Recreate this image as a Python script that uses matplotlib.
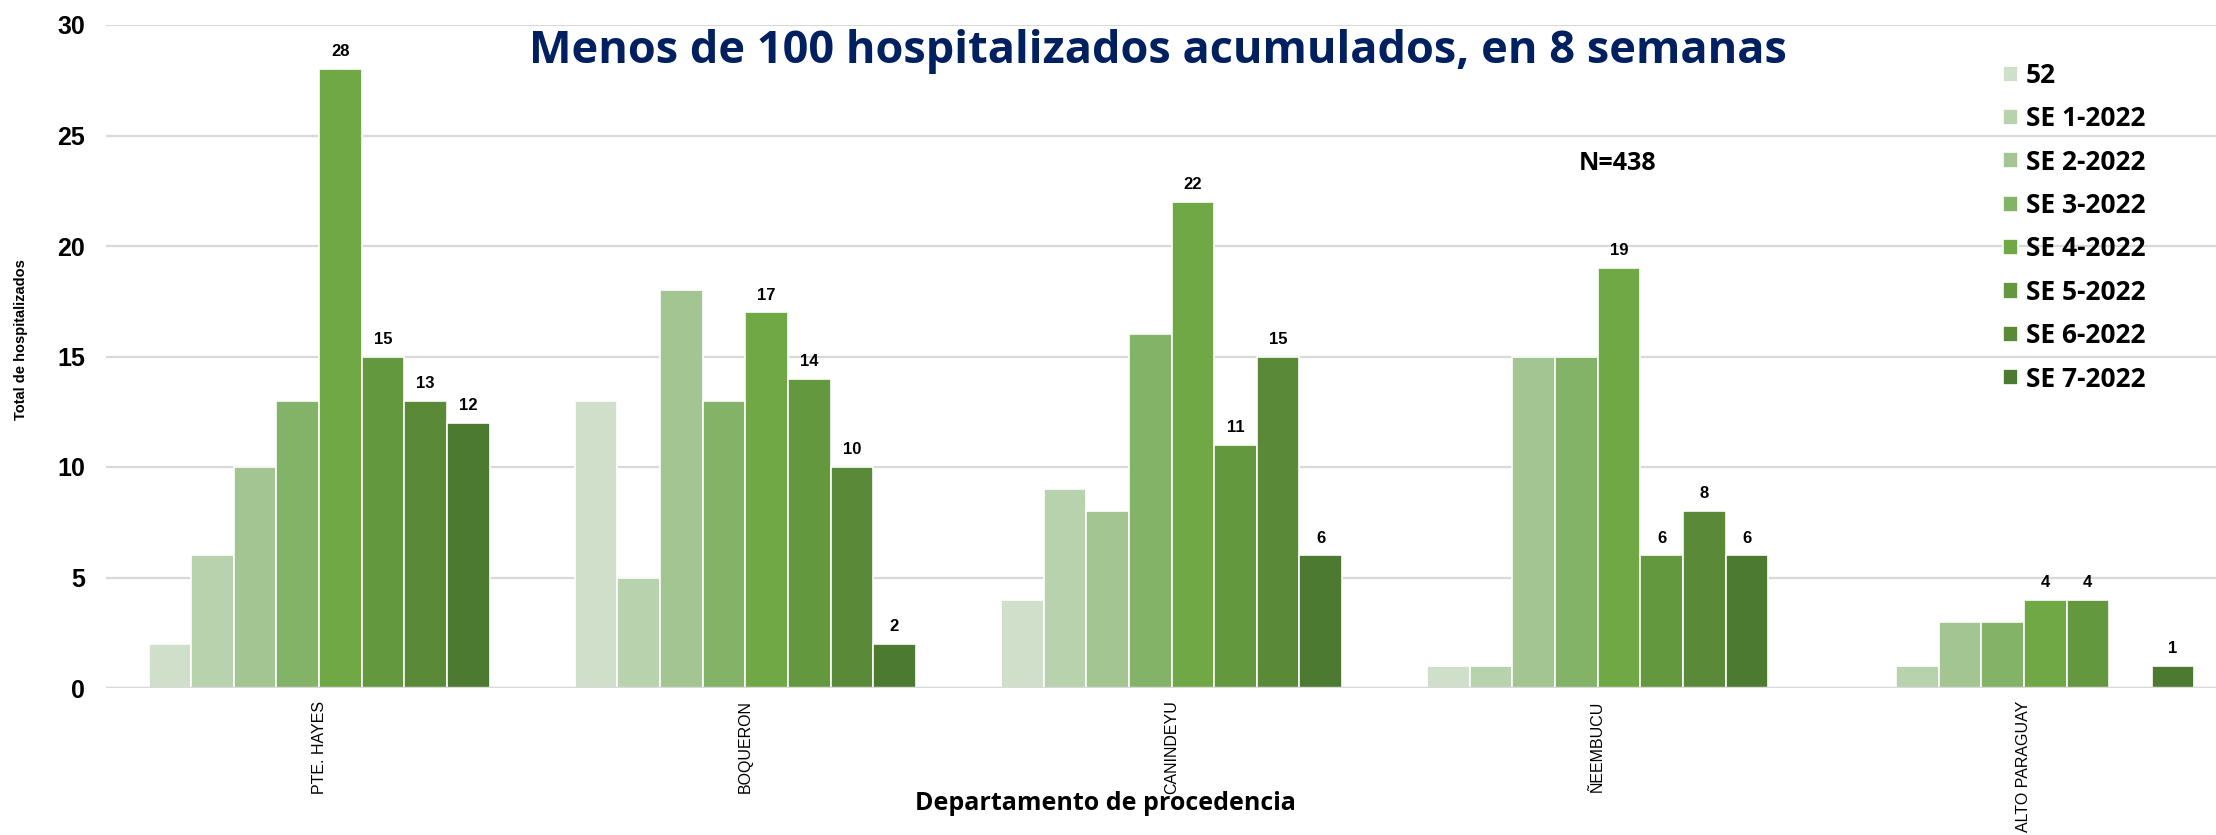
import numpy as np
import matplotlib
matplotlib.use('Agg')
import matplotlib.pyplot as plt

# Datos: hospitalizados por departamento y semana epidemiologica
departamentos = ['PTE. HAYES', 'BOQUERON', 'CANINDEYU', 'ÑEEMBUCU', 'ALTO PARAGUAY']
semanas = ['52', 'SE 1-2022', 'SE 2-2022', 'SE 3-2022',
           'SE 4-2022', 'SE 5-2022', 'SE 6-2022', 'SE 7-2022']

se_52 = [2, 13, 4, 1, 0]
se_1 = [6, 5, 9, 1, 1]
se_2 = [10, 18, 8, 15, 3]
se_3 = [13, 13, 16, 15, 3]
se_4 = [28, 17, 22, 19, 4]
se_5 = [15, 14, 11, 6, 4]
se_6 = [13, 10, 15, 8, 0]
se_7 = [12, 2, 6, 6, 1]
valores = [se_52, se_1, se_2, se_3, se_4, se_5, se_6, se_7]

# solo estas semanas llevan etiqueta de valor
con_etiqueta = ['SE 4-2022', 'SE 5-2022', 'SE 6-2022', 'SE 7-2022']

colores = ['#d0dfc9', '#b8d2ae', '#a3c591', '#82b366',
           '#6fa845', '#63983e', '#5a8938', '#4c7a30']

titulo = 'Menos de 100 hospitalizados acumulados, en 8 semanas'
total_n = 'N=438'

plt.rcParams['font.family'] = ['Liberation Sans', 'DejaVu Sans']
open_sans = ['Open Sans', 'DejaVu Sans']

W, H = 2216, 835
fig = plt.figure(figsize=(W / 100, H / 100), dpi=100)
ax = fig.add_axes([106 / W, 1 - 688 / H, 2131 / W, 663 / H])

x = np.arange(len(departamentos))
bar_w = 0.1

for i, (serie, vals) in enumerate(zip(semanas, valores)):
    offs = (i - (len(semanas) - 1) / 2) * bar_w
    bars = ax.bar(x + offs, vals, bar_w, color=colores[i], edgecolor='white',
                  linewidth=1.2, label=serie, zorder=3)
    if serie in con_etiqueta:
        for b, v in zip(bars, vals):
            if v > 0:
                ax.annotate(str(v), (b.get_x() + b.get_width() / 2, v),
                            xytext=(0, 7), textcoords='offset points',
                            ha='center', va='bottom', fontsize=12,
                            fontweight='bold')

ax.set_xlim(-0.5, len(departamentos) - 0.5)
ax.set_ylim(0, 30)
ax.set_yticks(np.arange(0, 31, 5))
ax.yaxis.grid(True, color='#d9d9d9', linewidth=1.6)
ax.set_axisbelow(True)
ax.axhline(0, color='#d9d9d9', linewidth=2.5, zorder=4)
for s in ax.spines.values():
    s.set_visible(False)

ax.tick_params(axis='y', length=0, pad=15, labelsize=18)
for lbl in ax.get_yticklabels():
    lbl.set_fontweight('bold')

ax.set_xticks(x)
ax.set_xticklabels(departamentos, rotation=90, fontsize=11.5)
ax.tick_params(axis='x', length=0, pad=9)

fig.text(21 / W, 1 - 340 / H, 'Total de hospitalizados', rotation=90,
         ha='center', va='center', fontsize=10.5, fontweight='bold')
fig.text(1105 / W, 1 - 804 / H, 'Departamento de procedencia',
         ha='center', va='center', fontsize=18, fontweight='bold', family=open_sans)

fig.text(1158 / W, 1 - 52 / H, titulo, ha='center', va='center',
         fontsize=32.5, fontweight='bold', color='#002060', family=open_sans)
fig.text(1618 / W, 1 - 163 / H, total_n, ha='center', va='center',
         fontsize=18, fontweight='bold', family=open_sans)

ax.legend(loc='upper left', bbox_to_anchor=(2003 / W, 1 - 62 / H),
          bbox_transform=fig.transFigure, frameon=False,
          prop={'family': open_sans, 'weight': 'bold', 'size': 19},
          handlelength=0.56, handleheight=0.56, handletextpad=0.3,
          labelspacing=0.62, borderpad=0, borderaxespad=0)

fig.savefig('out.png', dpi=100, facecolor='white')
